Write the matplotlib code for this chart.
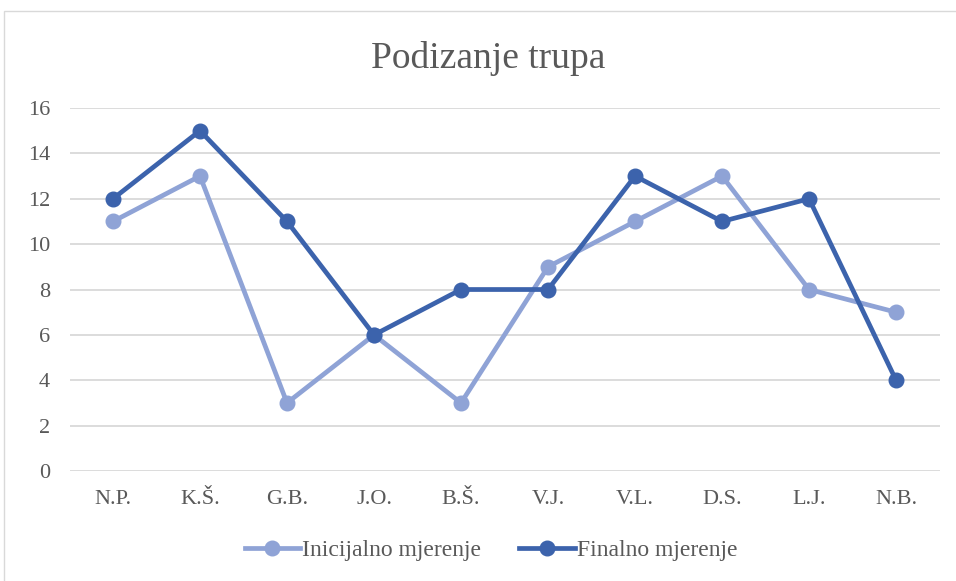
import matplotlib.pyplot as plt
from matplotlib.patches import Rectangle

categories = ['N.P.', 'K.Š.', 'G.B.', 'J.O.', 'B.Š.', 'V.J.', 'V.L.', 'D.S.', 'L.J.', 'N.B.']
inicijalno = [11, 13, 3, 6, 3, 9, 11, 13, 8, 7]
finalno = [12, 15, 11, 6, 8, 8, 13, 11, 12, 4]

plt.rcParams['font.family'] = ['Liberation Serif', 'DejaVu Serif']
txt = '#595959'

fig = plt.figure(figsize=(9.56, 5.81), dpi=100)
fig.patches.append(Rectangle((4 / 956, -0.01), 1.0, (581 - 11) / 581 + 0.01,
                             transform=fig.transFigure, fill=False,
                             edgecolor='#D9D9D9', linewidth=1))
ax = fig.add_axes([0.0727, 0.1893, 0.9101, 0.6248])

x = range(len(categories))
ax.plot(x, inicijalno, color='#8FA3D6', lw=3.4, marker='o', ms=10.5,
        label='Inicijalno mjerenje', solid_joinstyle='round')
ax.plot(x, finalno, color='#3C63AC', lw=3.4, marker='o', ms=10.5,
        label='Finalno mjerenje', solid_joinstyle='round')

ax.set_xlim(-0.5, len(categories) - 0.5)
ax.set_ylim(0, 16)
ax.set_yticks(range(0, 17, 2))
ax.set_xticks(list(x))
ax.set_xticklabels(categories)
ax.tick_params(length=0, labelsize=16, labelcolor=txt)
ax.tick_params(axis='x', pad=14)
ax.tick_params(axis='y', pad=14)
ax.grid(axis='y', color='#D9D9D9', lw=1.3)
ax.set_axisbelow(True)
for s in ax.spines.values():
    s.set_visible(False)

fig.text(488 / 956, 1 - 68 / 581, 'Podizanje trupa', ha='center', va='baseline',
         fontsize=27, color=txt)
fig.legend(loc='center', bbox_to_anchor=(491 / 956, 1 - 550 / 581), ncol=2,
           frameon=False, fontsize=17, labelcolor=txt, handlelength=2.35,
           handletextpad=0.1, columnspacing=1.6)

fig.savefig('out.png', dpi=100)
